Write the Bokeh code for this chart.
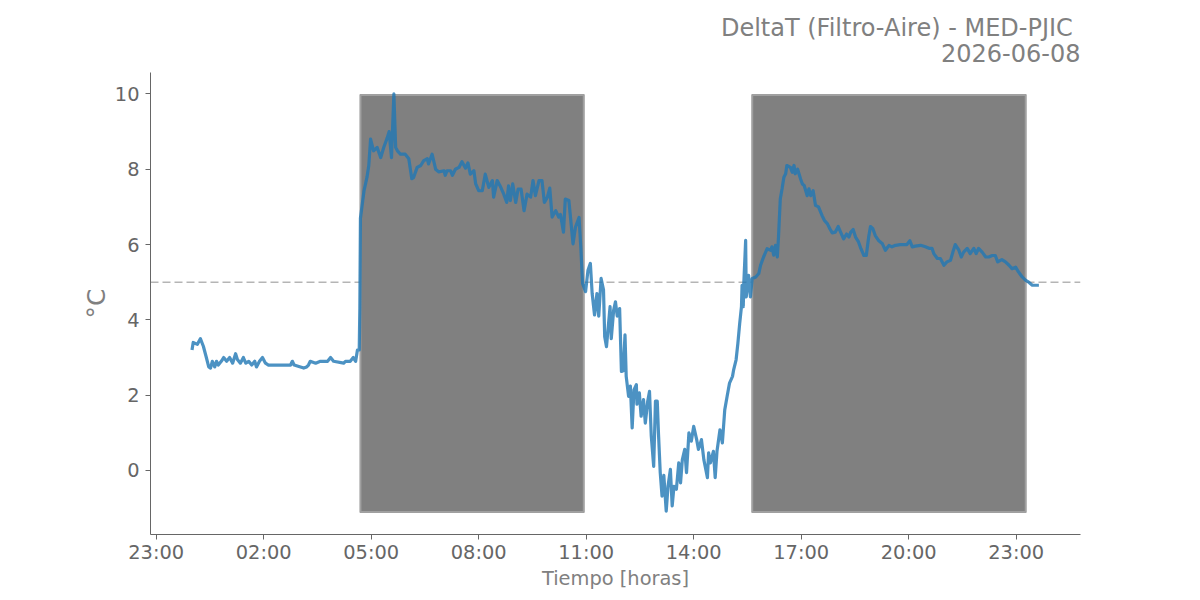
import pandas as pd
from bokeh.plotting import figure
from bokeh.models import (Range1d, Span, FixedTicker, DatetimeTickFormatter, Title,
                          ColumnDataSource)
from bokeh.embed import file_html
from bokeh.resources import INLINE

# ---------------- data ----------------
day = "2026-06-08"
title_main = "DeltaT (Filtro-Aire) - MED-PJIC "
title_date = "2026-06-08"
x_label = "Tiempo [horas]"
y_label = "°C"

times = [
    "00:00", "00:02", "00:09", "00:14", "00:19", "00:24", "00:28", "00:31", "00:34", "00:38",
    "00:41", "00:44", "00:49", "00:53", "00:58", "01:03", "01:08", "01:13", "01:16", "01:21",
    "01:26", "01:30", "01:35", "01:40", "01:45", "01:48", "01:53", "01:58", "02:03", "02:08",
    "02:45", "02:48", "02:51", "03:07", "03:12", "03:15", "03:18", "03:27", "03:35", "03:47",
    "03:52", "03:57", "04:14", "04:17", "04:25", "04:30", "04:34", "04:37", "04:40", "04:41",
    "04:42", "04:48", "04:53", "04:56", "04:59", "05:04", "05:10", "05:16", "05:21", "05:27",
    "05:30", "05:34", "05:38", "05:41", "05:44", "05:49", "05:57", "06:03", "06:08", "06:11",
    "06:17", "06:23", "06:28", "06:34", "06:36", "06:42", "06:48", "06:53", "07:02", "07:04",
    "07:07", "07:13", "07:16", "07:21", "07:27", "07:32", "07:38", "07:42", "07:46", "07:52",
    "07:55", "08:00", "08:06", "08:11", "08:17", "08:23", "08:25", "08:31", "08:37", "08:42",
    "08:47", "08:50", "08:53", "08:57", "09:02", "09:06", "09:11", "09:16", "09:21", "09:27",
    "09:31", "09:35", "09:41", "09:46", "09:50", "09:55", "09:59", "10:03", "10:09", "10:14",
    "10:17", "10:22", "10:25", "10:31", "10:38", "10:42", "10:48", "10:51", "10:54", "10:59",
    "11:03", "11:07", "11:10", "11:14", "11:18", "11:21", "11:25", "11:29", "11:31", "11:34",
    "11:37", "11:40", "11:42", "11:46", "11:49", "11:52", "11:56", "11:59", "12:02", "12:05",
    "12:07", "12:11", "12:14", "12:17", "12:20", "12:24", "12:25", "12:29", "12:32", "12:36",
    "12:39", "12:43", "12:46", "12:49", "12:53", "12:56", "12:59", "13:01", "13:04", "13:07",
    "13:10", "13:14", "13:17", "13:21", "13:24", "13:27", "13:31", "13:35", "13:38", "13:41",
    "13:45", "13:48", "13:52", "13:56", "14:00", "14:05", "14:08", "14:13", "14:17", "14:23",
    "14:25", "14:28", "14:33", "14:36", "14:39", "14:44", "14:48", "14:52", "14:56", "15:00",
    "15:05", "15:07", "15:11", "15:14", "15:17", "15:20", "15:21", "15:23", "15:24", "15:27",
    "15:28", "15:32", "15:35", "15:38", "15:44", "15:49", "15:52", "15:57", "16:03", "16:09",
    "16:11", "16:14", "16:17", "16:20", "16:22", "16:25", "16:28", "16:31", "16:34", "16:36",
    "16:42", "16:45", "16:48", "16:50", "16:54", "16:59", "17:02", "17:05", "17:10", "17:13",
    "17:16", "17:20", "17:24", "17:29", "17:35", "17:39", "17:44", "17:48", "17:52", "17:57",
    "18:02", "18:06", "18:11", "18:16", "18:20", "18:23", "18:27", "18:31", "18:36", "18:40",
    "18:45", "18:49", "18:53", "18:56", "19:00", "19:04", "19:10", "19:16", "19:21", "19:27",
    "19:32", "19:38", "19:46", "19:57", "20:02", "20:06", "20:11", "20:20", "20:28", "20:34",
    "20:39", "20:42", "20:48", "20:53", "20:59", "21:04", "21:10", "21:14", "21:18", "21:24",
    "21:28", "21:32", "21:38", "21:43", "21:49", "21:53", "21:57", "22:03", "22:09", "22:14",
    "22:20", "22:25", "22:29", "22:36", "22:42", "22:48", "22:53", "22:59", "23:04", "23:10",
    "23:16", "23:21", "23:27", "23:38",
]
values = [
    3.20, 3.40, 3.35, 3.50, 3.30, 3.00, 2.75, 2.72, 2.90, 2.75,
    2.90, 2.80, 2.90, 3.00, 2.90, 3.00, 2.85, 3.10, 2.95, 2.85,
    3.00, 2.85, 2.90, 2.80, 2.90, 2.75, 2.90, 3.00, 2.85, 2.80,
    2.80, 2.90, 2.80, 2.72, 2.75, 2.80, 2.90, 2.85, 2.90, 2.90,
    3.00, 2.90, 2.85, 2.90, 2.90, 3.00, 2.90, 3.20, 3.20, 4.30,
    6.70, 7.43, 7.79, 8.10, 8.80, 8.49, 8.58, 8.31, 8.58, 8.84,
    9.00, 8.31, 10.00, 8.58, 8.49, 8.40, 8.40, 8.28, 7.75, 7.78,
    8.05, 8.10, 8.23, 8.28, 8.14, 8.40, 8.00, 7.93, 7.96, 7.84,
    7.96, 7.96, 7.84, 8.00, 8.05, 8.20, 8.03, 8.17, 7.87, 7.96,
    7.61, 7.43, 7.43, 7.87, 7.52, 7.70, 7.26, 7.70, 7.52, 7.34,
    7.12, 7.56, 7.17, 7.61, 7.12, 7.47, 7.47, 6.90, 7.34, 7.26,
    7.70, 7.30, 7.70, 7.70, 7.12, 7.26, 7.50, 6.73, 6.90, 6.73,
    6.80, 6.33, 7.21, 7.17, 6.02, 6.46, 6.72, 5.93, 4.97, 4.75,
    5.32, 5.50, 4.70, 4.13, 4.70, 4.10, 5.10, 4.80, 3.55, 3.29,
    3.82, 4.35, 3.50, 4.26, 4.48, 4.10, 4.30, 2.63, 2.65, 3.60,
    2.50, 1.97, 2.24, 1.13, 2.14, 2.28, 1.76, 2.06, 1.44, 1.88,
    1.26, 1.84, 2.10, 0.91, 0.11, 1.84, 1.84, 1.00, -0.06, -0.68,
    -0.13, -1.08, -0.42, 0.03, -0.94, -0.42, -0.50, 0.20, -0.33, 0.29,
    0.56, -0.06, 1.00, 0.78, 1.17, 0.82, 0.56, 0.82, 0.29, -0.19,
    0.47, 0.20, 0.51, -0.19, 0.51, 1.08, 0.73, 1.61, 1.97, 2.32,
    2.50, 2.68, 2.94, 3.38, 3.90, 4.35, 4.92, 4.35, 5.00, 6.11,
    4.61, 5.18, 4.61, 5.10, 5.14, 5.23, 5.45, 5.67, 5.89, 5.85,
    5.94, 5.72, 5.98, 5.67, 6.20, 7.21, 7.48, 7.79, 7.88, 8.10,
    8.05, 7.92, 8.10, 7.88, 8.00, 7.74, 7.61, 7.57, 7.30, 7.48,
    7.30, 7.43, 7.04, 7.00, 6.77, 6.64, 6.55, 6.42, 6.31, 6.33,
    6.48, 6.33, 6.15, 6.28, 6.20, 6.33, 6.40, 6.20, 6.07, 5.89,
    5.71, 5.71, 6.20, 6.48, 6.42, 6.24, 6.10, 6.02, 5.85, 5.98,
    5.94, 5.98, 6.00, 6.00, 6.10, 5.94, 5.96, 5.98, 5.94, 5.90,
    5.90, 5.76, 5.63, 5.63, 5.45, 5.54, 5.58, 5.80, 6.00, 5.85,
    5.67, 5.80, 5.90, 5.76, 5.90, 5.76, 5.90, 5.80, 5.67, 5.67,
    5.71, 5.71, 5.54, 5.60, 5.54, 5.45, 5.36, 5.40, 5.27, 5.14,
    5.05, 5.00, 4.92, 4.92,
]

shade_start = ["2026-06-08 04:42", "2026-06-08 15:38"]
shade_end = ["2026-06-08 10:56", "2026-06-08 23:16"]
shade_bottom = -1.10
shade_top = 9.97
threshold = 5.0

x_ticks = ["2026-06-07 23:00", "2026-06-08 02:00", "2026-06-08 05:00", "2026-06-08 08:00",
           "2026-06-08 11:00", "2026-06-08 14:00", "2026-06-08 17:00", "2026-06-08 20:00",
           "2026-06-08 23:00"]
x_start = "2026-06-07 22:50:30"
x_end = "2026-06-09 00:47:40"
y_ticks = [0, 2, 4, 6, 8, 10]
y_start, y_end = -1.70, 10.57

# ---------------- build ----------------
def to_ms(seq):
    return (pd.to_datetime(seq).astype("int64") // 10**6).tolist()

FONT = "DejaVu Sans"

src = ColumnDataSource(dict(t=pd.to_datetime([f"{day} {t}" for t in times]), v=values))
shade = ColumnDataSource(dict(l=pd.to_datetime(shade_start), r=pd.to_datetime(shade_end),
                              b=[shade_bottom] * len(shade_start), tp=[shade_top] * len(shade_start)))

p = figure(width=1184, height=595, x_axis_type="datetime", output_backend="svg",
           toolbar_location=None,
           x_range=Range1d(to_ms([x_start])[0], to_ms([x_end])[0]),
           y_range=Range1d(y_start, y_end),
           min_border_left=150, min_border_right=104, min_border_top=72, min_border_bottom=61)
p.outline_line_color = None
p.xgrid.visible = False
p.ygrid.visible = False
p.background_fill_color = "white"
p.border_fill_color = "white"

span = Span(location=threshold, dimension="width", line_color="#b5b5b5",
            line_dash="8 4", line_width=1.5, level="underlay")
p.add_layout(span)

p.quad(left="l", right="r", bottom="b", top="tp", source=shade,
       fill_color="#808080", line_color="#a0a0a0", line_width=2, line_join="round")

p.line("t", "v", source=src, line_color="#1f77b4", line_alpha=0.8, line_width=3.2,
       line_join="round")

# axes
p.xaxis.ticker = FixedTicker(ticks=to_ms(x_ticks))
p.xaxis.formatter = DatetimeTickFormatter(hours="%H:%M", hourmin="%H:%M", minutes="%H:%M",
                                          days="%H:%M", minsec="%H:%M", seconds="%H:%M")
p.yaxis.ticker = FixedTicker(ticks=y_ticks)
p.xaxis.axis_label = x_label
p.yaxis.axis_label = y_label

for ax in (p.xaxis, p.yaxis):
    ax.axis_line_color = "#666666"
    ax.major_tick_line_color = "#666666"
    ax.major_tick_out = 5
    ax.major_tick_in = 0
    ax.minor_tick_out = 0
    ax.minor_tick_in = 0
    ax.major_label_text_font = FONT
    ax.major_label_text_font_size = "19.4px"
    ax.major_label_text_color = "#666666"
    ax.axis_label_text_font = FONT
    ax.axis_label_text_color = "#808080"
    ax.axis_label_text_font_style = "normal"

p.xaxis.major_label_standoff = 1
p.yaxis.major_label_standoff = 6
p.xaxis.axis_label_text_font_size = "19.4px"
p.xaxis.axis_label_standoff = 0
p.yaxis.axis_label_text_font_size = "25px"
p.yaxis.axis_label_standoff = 1

p.add_layout(Title(text=title_date, align="right", text_font=FONT, text_font_size="24px",
                   text_font_style="normal", text_color="#808080", standoff=22), "above")
p.add_layout(Title(text=title_main, align="right", text_font=FONT, text_font_size="24px",
                   text_font_style="normal", text_color="#808080", standoff=-22), "above")

open("out.html", "w").write(file_html(p, INLINE))
